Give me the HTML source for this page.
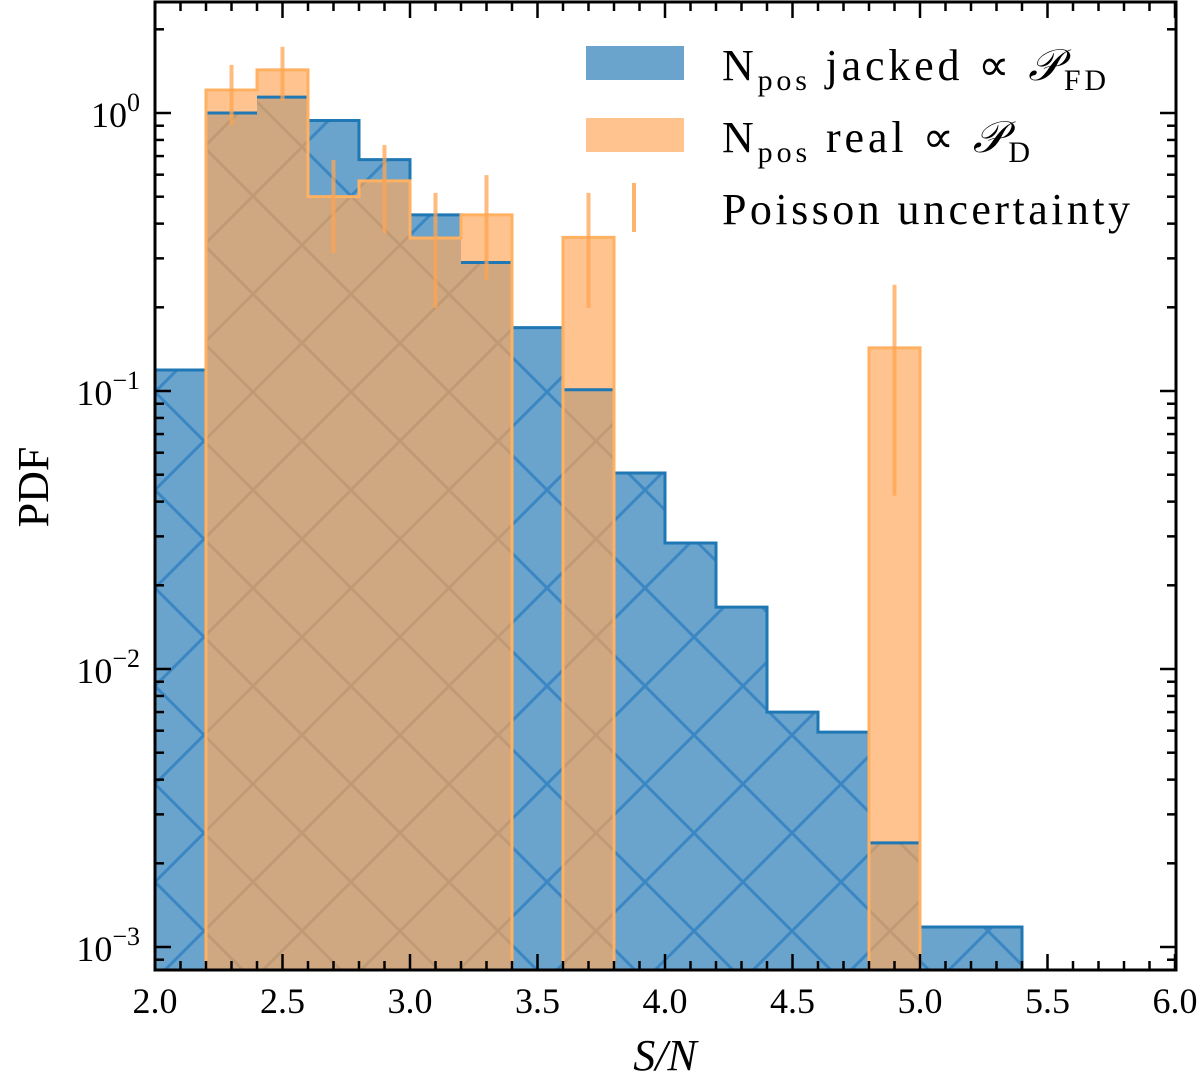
<!DOCTYPE html>
<html><head><meta charset="utf-8"><style>
body{margin:0;background:#fff}
svg text{font-family:"Liberation Serif",serif;fill:#000}
</style></head><body>
<svg id="chart" width="1200" height="1087" viewBox="0 0 1200 1087" xmlns="http://www.w3.org/2000/svg">
<defs>
<pattern id="hatchB" patternUnits="userSpaceOnUse" width="98" height="98" x="155" y="0">
<path d="M0,0L98,98M98,0L0,98" stroke="#2a7dc0" stroke-width="3" opacity="0.75"/>
</pattern>
<pattern id="hatchO" patternUnits="userSpaceOnUse" width="98" height="98" x="155" y="0">
<path d="M0,0L98,98M98,0L0,98" stroke="#b8946e" stroke-width="3" opacity="0.7"/>
</pattern>
<clipPath id="plotclip"><rect x="155" y="2" width="1021" height="968"/></clipPath>
</defs>
<g id="bars" clip-path="url(#plotclip)"></g>
<g id="axes"></g>
<g id="legend">
<rect x="586" y="46" width="98" height="34" fill="#6aa3cc"/>
<text x="722" y="80" font-size="44" textLength="384">N<tspan font-size="30" dy="10">pos</tspan><tspan dy="-10"> jacked ∝ </tspan><tspan font-style="italic">𝒫</tspan><tspan font-size="30" dy="10">FD</tspan></text>
<rect x="586" y="118" width="98" height="34" fill="#ffc38f"/>
<text x="722" y="152" font-size="44" textLength="308">N<tspan font-size="30" dy="10">pos</tspan><tspan dy="-10"> real ∝ </tspan><tspan font-style="italic">𝒫</tspan><tspan font-size="30" dy="10">D</tspan></text>
<line x1="634" y1="183" x2="634" y2="232" stroke="#ffb46e" stroke-width="4"/>
<text x="722" y="224" font-size="44" textLength="408">Poisson uncertainty</text>
</g>
<text x="665" y="1070" font-size="44" font-style="italic" text-anchor="middle">S/N</text>
<text transform="translate(48,487) rotate(-90)" font-size="44" text-anchor="middle">PDF</text>
</svg>
<script>
const binEdges=[2.0,2.2,2.4,2.6,2.8,3.0,3.2,3.4,3.6,3.8,4.0,4.2,4.4,4.6,4.8,5.0,5.2,5.4];
const jackedPdf=[0.119,1.0,1.14,0.94,0.68,0.43,0.29,0.169,0.101,0.0507,0.0284,0.0167,0.0070,0.00593,0.00237,0.00118,0.00118];
const realPdf=[0,1.21,1.43,0.50,0.57,0.355,0.43,0,0.357,0,0,0,0,0,0.143,0,0];
const errCenters=[2.3,2.5,2.7,2.9,3.1,3.3,3.7,4.9];
const errHigh=[1.49,1.73,0.678,0.767,0.516,0.598,0.516,0.241];
const errLow=[0.906,1.11,0.314,0.37,0.199,0.251,0.199,0.042];
const xTicks=[2.0,2.5,3.0,3.5,4.0,4.5,5.0,5.5,6.0];
const xTickLabels=["2.0","2.5","3.0","3.5","4.0","4.5","5.0","5.5","6.0"];
const yTickExps=[0,-1,-2,-3];

const X0=155,X1=1176,Y0=2,Y1=970;
const x=v=>155+(v-2)*255;
const y=v=>113-Math.log10(v)*278;
const NS="http://www.w3.org/2000/svg";
function mk(tag,attrs,parent){const e=document.createElementNS(NS,tag);for(const k in attrs)e.setAttribute(k,attrs[k]);parent.appendChild(e);return e;}
const bars=document.getElementById('bars'),axes=document.getElementById('axes');
const bottom=Y1+5;
for(let i=0;i<jackedPdf.length;i++){
  const v=jackedPdf[i];if(v<=0)continue;
  const xa=x(binEdges[i]),xb=x(binEdges[i+1]),yt=y(v);
  const r=mk('rect',{x:xa,y:yt,width:xb-xa,height:bottom-yt,fill:'#6aa3cc'},bars);
  
  
  mk('rect',{x:xa,y:yt,width:xb-xa,height:bottom-yt,fill:'url(#hatchB)'},bars);
}
let d='';
for(let i=0;i<jackedPdf.length;i++){
  const xa=x(binEdges[i]),xb=x(binEdges[i+1]),yt=y(jackedPdf[i]);
  d+=(i===0?'M'+xa+','+yt:'L'+xa+','+yt)+'L'+xb+','+yt;
}
d+='L'+x(binEdges[binEdges.length-1])+','+bottom;
const outline=mk('path',{d:d,fill:'none',stroke:'#1f77b4',"stroke-width":3},bars);


for(let i=0;i<realPdf.length;i++){
  const v=realPdf[i];if(v<=0)continue;
  const xa=x(binEdges[i]),xb=x(binEdges[i+1]),yt=y(v);
  const r=mk('rect',{x:xa,y:yt,width:xb-xa,height:bottom-yt,fill:'#ffc38f'},bars);
  
  
  const yo=Math.max(yt,y(jackedPdf[i]));
  mk('rect',{x:xa,y:yo,width:xb-xa+0.5,height:bottom-yo,fill:'#cfa882'},bars);
  mk('rect',{x:xa,y:yo,width:xb-xa+0.5,height:bottom-yo,fill:'url(#hatchO)'},bars);
  if(jackedPdf[i]<v) mk('line',{x1:xa,x2:xb,y1:y(jackedPdf[i]),y2:y(jackedPdf[i]),stroke:'#1f77b4',"stroke-width":3},bars);
}
// orange step outline per contiguous group
let od='',prev=0;
for(let i=0;i<=realPdf.length;i++){
  const v=i<realPdf.length?realPdf[i]:0;
  const xa=x(binEdges[i]);
  const yPrev=prev>0?y(prev):bottom, yCur=v>0?y(v):bottom;
  if(prev<=0&&v>0) od+='M'+xa+','+bottom+'L'+xa+','+yCur;
  else if(prev>0) od+='L'+xa+','+yPrev+'L'+xa+','+yCur;
  if(v>0) od+='L'+x(binEdges[i+1])+','+yCur;
  prev=v;
}
const oo=mk('path',{d:od,fill:'none',stroke:'#ffb060',"stroke-width":3},bars);


for(let i=0;i<errCenters.length;i++){
  const l=mk('line',{x1:x(errCenters[i]),x2:x(errCenters[i]),y1:y(errHigh[i]),y2:y(errLow[i]),stroke:'#ffa552',"stroke-width":4,opacity:0.75},bars);
  
  
}
const fr=mk('rect',{x:X0,y:Y0,width:X1-X0,height:Y1-Y0,fill:'none',stroke:'#000',"stroke-width":3},axes);


for(let v=2.0;v<=6.001;v+=0.1){
  const major=Math.abs(v*2-Math.round(v*2))<1e-6;const L=major?16:9;const xx=x(v);
  mk('line',{x1:xx,x2:xx,y1:Y1,y2:Y1-L,stroke:'#000',"stroke-width":2.5},axes);
  mk('line',{x1:xx,x2:xx,y1:Y0,y2:Y0+L,stroke:'#000',"stroke-width":2.5},axes);
}
xTicks.forEach((v,i)=>{
  const t=mk('text',{x:x(v),y:1013,"font-size":36,"text-anchor":"middle"},axes);
  
  
  t.textContent=xTickLabels[i];
});
for(let e=-4;e<=1;e++){
  for(let m=1;m<10;m++){
    const yy=y(m*Math.pow(10,e));if(yy<Y0||yy>Y1)continue;
    const L=m===1?16:9;
    mk('line',{x1:X0,x2:X0+L,y1:yy,y2:yy,stroke:'#000',"stroke-width":2.5},axes);
    mk('line',{x1:X1,x2:X1-L,y1:yy,y2:yy,stroke:'#000',"stroke-width":2.5},axes);
  }
}
yTickExps.forEach(e=>{
  const t=mk('text',{x:140,y:y(Math.pow(10,e))+14,"font-size":36,"text-anchor":"end"},axes);
  
  
  t.innerHTML='10<tspan dy="-16" font-size="26">'+(e===0?'0':'−'+(-e))+'</tspan>';
});
</script>
</body></html>
